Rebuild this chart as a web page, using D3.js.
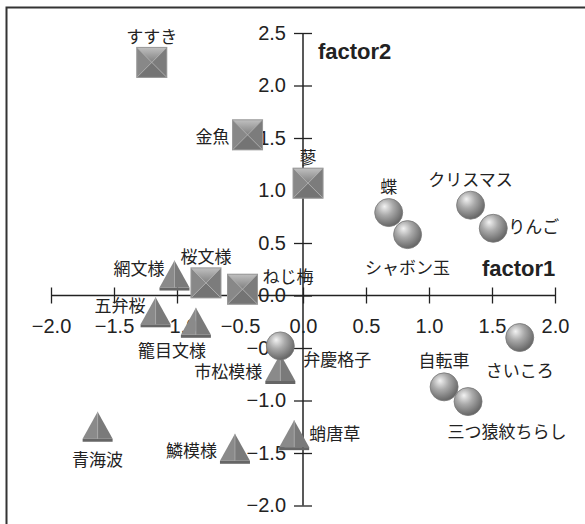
<!DOCTYPE html>
<html>
<head>
<meta charset="utf-8">
<script src="https://cdn.jsdelivr.net/npm/d3@7"></script>
<style>
  body { margin: 0; background: #fff; }
  text { fill: #222; }
</style>
</head>
<body>
<svg width="585" height="524"></svg>
<script>
let svg = d3.select("svg")

// data
let names = ["すすき", "金魚", "蓼", "桜文様", "ねじ梅",
             "網文様", "五弁桜", "籠目文様", "市松模様", "青海波", "鱗模様", "蛸唐草",
             "弁慶格子", "蝶", "シャボン玉", "クリスマス", "りんご", "さいころ", "自転車", "三つ猿紋ちらし"]
let factor1 = [-1.20, -0.44, 0.04, -0.77, -0.48,
               -1.02, -1.17, -0.85, -0.18, -1.63, -0.54, -0.07,
               -0.18, 0.68, 0.83, 1.33, 1.51, 1.72, 1.12, 1.31]
let factor2 = [2.22, 1.53, 1.07, 0.12, 0.06,
               0.19, -0.16, -0.26, -0.70, -1.25, -1.46, -1.33,
               -0.48, 0.79, 0.58, 0.86, 0.64, -0.40, -0.87, -1.01]
let shapes = ["square", "square", "square", "square", "square",
              "triangle", "triangle", "triangle", "triangle", "triangle", "triangle", "triangle",
              "sphere", "sphere", "sphere", "sphere", "sphere", "sphere", "sphere", "sphere"]
let labelSide = ["top", "left", "top", "top", "topright",
                 "topleft", "topleft", "bottomleft", "left", "bottom", "left", "right",
                 "bottomright", "top", "bottom", "top", "right", "bottom", "top", "bottomfar"]

let xTicks = [-2, -1.5, -1, -0.5, 0, 0.5, 1, 1.5, 2]
let yTicks = [-2, -1.5, -1, -0.5, 0, 0.5, 1, 1.5, 2, 2.5]

let x = d3.scaleLinear().domain([-2, 2]).range([51, 555])
let y = d3.scaleLinear().domain([-2, 2.5]).range([505.5, 33])

let points = names.map((n, i) => ({name: n, f1: factor1[i], f2: factor2[i], shape: shapes[i], side: labelSide[i]}))

// frame (only top and left edges fall inside the picture)
svg.append("rect")
  .attr("x", 6.5).attr("y", 7.5)
  .attr("width", 700).attr("height", 700)
  .attr("fill", "none").attr("stroke", "#333").attr("stroke-width", 2)

// gradients
let defs = svg.append("defs")
let rg = defs.append("radialGradient").attr("id", "ball")
  .attr("cx", "40%").attr("cy", "35%").attr("r", "65%").attr("fx", "35%").attr("fy", "28%")
rg.append("stop").attr("offset", "0%").attr("stop-color", "#f2f2f2")
rg.append("stop").attr("offset", "45%").attr("stop-color", "#aaaaaa")
rg.append("stop").attr("offset", "100%").attr("stop-color", "#666666")

let sg = defs.append("linearGradient").attr("id", "sqtop")
  .attr("x1", 0).attr("y1", 0).attr("x2", 0).attr("y2", 1)
sg.append("stop").attr("offset", "0%").attr("stop-color", "#c0c0c0")
sg.append("stop").attr("offset", "100%").attr("stop-color", "#808080")

// axes
let xAxisG = svg.append("g").attr("class", "x-axis")
  .attr("transform", `translate(0,${y(0)})`)
  .call(d3.axisBottom(x).tickValues(xTicks).tickSize(8).tickPadding(19).tickFormat(d3.format(".1f")))
let yAxisG = svg.append("g").attr("class", "y-axis")
  .attr("transform", `translate(${x(0)},0)`)
  .call(d3.axisLeft(y).tickValues(yTicks).tickSize(9).tickPadding(8).tickFormat(d3.format(".1f")))

svg.selectAll(".x-axis .tick line").attr("y1", -8)
svg.selectAll(".y-axis .tick line").attr("x1", 9)
svg.selectAll(".domain").attr("stroke", "#222").attr("stroke-width", 1.5)
svg.selectAll(".tick line").attr("stroke", "#222").attr("stroke-width", 1.3)
svg.selectAll(".tick text")
  .attr("font-family", "Liberation Sans, Arial, sans-serif")
  .attr("font-size", 20).attr("fill", "#222")
  .text(d => d3.format(".1f")(d).replace("-", "\u2212"))
svg.selectAll(".x-axis .tick text").attr("dy", "0.5em")
// both domain paths without end caps
svg.select(".x-axis .domain").attr("d", `M${x(-2)},0H${x(2)}`)
svg.select(".y-axis .domain").attr("d", `M0,${y(2.5)}V${y(-2)}`)

svg.append("text").text("factor1")
  .attr("x", 482).attr("y", 276)
  .attr("font-family", "Liberation Sans, Arial, sans-serif")
  .attr("font-weight", "bold").attr("font-size", 22)
svg.append("text").text("factor2")
  .attr("x", 318).attr("y", 59)
  .attr("font-family", "Liberation Sans, Arial, sans-serif")
  .attr("font-weight", "bold").attr("font-size", 22)

// markers
let h = 15
let marks = svg.append("g").selectAll("g").data(points).enter().append("g")
  .attr("transform", d => `translate(${x(d.f1)},${y(d.f2)})`)

marks.filter(d => d.shape === "sphere").append("circle")
  .attr("r", 14).attr("fill", "url(#ball)").attr("stroke", "#777").attr("stroke-width", 0.8)

let sq = marks.filter(d => d.shape === "square")
sq.append("rect").attr("x", -h).attr("y", -h).attr("width", 2 * h).attr("height", 2 * h)
  .attr("fill", "#858585")
sq.append("path").attr("d", `M${-h},${-h}L${h},${-h}L0,0Z`).attr("fill", "url(#sqtop)")
sq.append("path").attr("d", `M${-h},${-h}L0,0L${-h},${h}Z`).attr("fill", "#888")
sq.append("path").attr("d", `M${h},${-h}L0,0L${h},${h}Z`).attr("fill", "#7c7c7c")
sq.append("path").attr("d", `M${-h},${h}L0,0L${h},${h}Z`).attr("fill", "#747474")
sq.append("path").attr("d", `M${-h},${-h}L${h},${h}M${h},${-h}L${-h},${h}`)
  .attr("stroke", "#b8b8b8").attr("stroke-width", 0.8)
sq.append("rect").attr("x", -h).attr("y", -h).attr("width", 2 * h).attr("height", 2 * h)
  .attr("fill", "none").attr("stroke", "#999").attr("stroke-width", 1)

let tri = marks.filter(d => d.shape === "triangle")
tri.append("path").attr("d", `M0,${-h}L${-h},${h - 3}L0,${h - 3}Z`).attr("fill", "#8a8a8a")
tri.append("path").attr("d", `M0,${-h}L0,${h - 3}L${h},${h - 3}Z`).attr("fill", "#7a7a7a")
tri.append("path").attr("d", `M${-h},${h - 3}L${h},${h - 3}L${h},${h}L${-h},${h}Z`).attr("fill", "#666")
tri.append("path").attr("d", `M0,${-h}L0,${h - 3}`).attr("stroke", "#a8a8a8").attr("stroke-width", 0.8)

// labels
let place = {
  top: ["middle", 0, -27],
  bottom: ["middle", 0, 32],
  left: ["end", -18, 1],
  right: ["start", 15, -3],
  topleft: ["end", -10, -8],
  topright: ["start", 20, -14],
  bottomleft: ["middle", -24, 27],
  bottomright: ["start", 23, 13],
  bottomfar: ["middle", 39, 29]
}
marks.append("text")
  .text(d => d.name)
  .attr("text-anchor", d => place[d.side][0])
  .attr("x", d => place[d.side][1])
  .attr("y", d => place[d.side][2])
  .attr("dominant-baseline", "central")
  .attr("font-family", "Noto Sans CJK JP, sans-serif")
  .attr("font-size", 17)
</script>
</body>
</html>
